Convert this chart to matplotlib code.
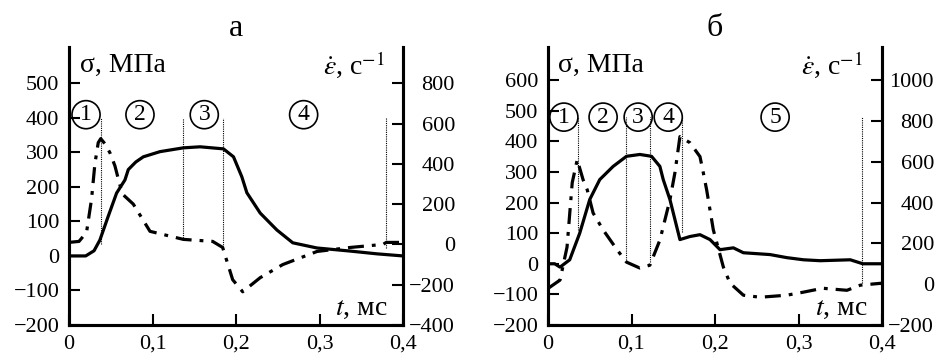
import matplotlib
matplotlib.use('Agg')
import matplotlib.pyplot as plt

plt.rcParams['font.family'] = ['Liberation Serif', 'DejaVu Serif']
plt.rcParams['mathtext.fontset'] = 'stix'

# panel a: stress (left axis) and strain rate (right axis)
t_sig_a = [0, 0.02, 0.03, 0.037, 0.047, 0.057, 0.067, 0.071, 0.08, 0.089, 0.109, 0.137, 0.157,
           0.185, 0.197, 0.207, 0.213, 0.229, 0.249, 0.268, 0.297, 0.337, 0.369, 0.4]
sig_a = [0, 0, 15, 46, 115, 182, 220, 250, 272, 287, 302, 313, 316,
         310, 287, 229, 183, 124, 75, 38, 23, 14, 6, 0]
t_eps_a = [0, 0.012, 0.021, 0.027, 0.031, 0.035, 0.038, 0.043, 0.049, 0.055, 0.06, 0.064, 0.077,
           0.097, 0.137, 0.172, 0.184, 0.196, 0.208, 0.229, 0.256, 0.297, 0.337, 0.376, 0.38, 0.4]
eps_a = [10, 15, 60, 225, 400, 505, 525, 500, 455, 390, 310, 250, 200,
         65, 25, 15, -15, -175, -235, -165, -100, -35, -15, 0, 10, 10]
lines_a = [0.0383, 0.1365, 0.184, 0.3797]
lines_a_bottom = [35, 45, 26, 23]
phase_a = ['1', '2', '3', '4']
phase_a_x = [0.0204, 0.085, 0.162, 0.281]

# panel b
t_sig_b = [0, 0.008, 0.0144, 0.026, 0.038, 0.05, 0.062, 0.078, 0.094, 0.11, 0.124, 0.134,
           0.138, 0.146, 0.158, 0.17, 0.182, 0.194, 0.206, 0.222, 0.234, 0.266, 0.286,
           0.306, 0.326, 0.362, 0.377, 0.4]
sig_b = [0, 0, -11, 13, 100, 210, 275, 318, 351, 357, 351, 318,
         275, 210, 79, 89, 95, 79, 46, 52, 36, 30, 20,
         13, 10, 13, 0, 0]
t_eps_b = [0, 0.0144, 0.0228, 0.029, 0.035, 0.042, 0.047, 0.054, 0.066, 0.083, 0.094, 0.11,
           0.122, 0.134, 0.146, 0.152, 0.158, 0.17, 0.182, 0.186, 0.19, 0.198, 0.21, 0.218,
           0.234, 0.254, 0.286, 0.306, 0.329, 0.358, 0.374, 0.4]
eps_b = [-21, 20, 182, 497, 610, 512, 462, 349, 266, 167, 108, 79,
         93, 216, 413, 546, 723, 693, 625, 546, 462, 266, 84, 5,
         -54, -64, -54, -39, -20, -30, -5, 5]
lines_b = [0.0356, 0.0934, 0.122, 0.161, 0.376]
lines_b_bottom = [111, 13, 7, 105, -62]
phase_b = ['1', '2', '3', '4', '5']
phase_b_x = [0.019, 0.066, 0.108, 0.144, 0.272]

xticks = [0, 0.1, 0.2, 0.3, 0.4]
xticklabels = ['0', '0,1', '0,2', '0,3', '0,4']

fig = plt.figure(figsize=(9.4, 3.58), dpi=100)

panels = [
    dict(left=69, t_sig=t_sig_a, sig=sig_a, t_eps=t_eps_a, eps=eps_a,
         lines=lines_a, bottoms=lines_a_bottom, top=400,
         phase=phase_a, phase_x=phase_a_x, phase_y=409,
         ylim=(-200, 605), yticks=range(-200, 501, 100),
         ylim2=(-400, 980), yticks2=range(-400, 801, 200),
         title='а', sig_x=0.033, eps_x=0.946, t_x=0.955),
    dict(left=548, t_sig=t_sig_b, sig=sig_b, t_eps=t_eps_b, eps=eps_b,
         lines=lines_b, bottoms=lines_b_bottom, top=480,
         phase=phase_b, phase_x=phase_b_x, phase_y=479,
         ylim=(-200, 708), yticks=range(-200, 601, 100),
         ylim2=(-200, 1162), yticks2=range(-200, 1001, 200),
         title='б', sig_x=0.03, eps_x=0.943, t_x=0.958),
]

for p in panels:
    ax = fig.add_axes([p['left'] / 940, 33 / 358, 334 / 940, 278 / 358])
    ax2 = ax.twinx()

    ax.plot(p['t_sig'], p['sig'], color='black', lw=2.3, solid_joinstyle='round')
    ax2.plot(p['t_eps'], p['eps'], color='black', lw=2.3, dashes=(5, 2.5, 1.2, 2.5))

    for x, yb in zip(p['lines'], p['bottoms']):
        ax.plot([x, x], [yb, p['top']], color='black', lw=0.8, ls=(0, (1, 1)))

    for s, x in zip(p['phase'], p['phase_x']):
        ax.text(x, p['phase_y'], s, ha='center', va='center', fontsize=17,
                bbox=dict(boxstyle='circle,pad=0.15', fc='none', ec='black', lw=1.2))

    ax.set_xlim(0, 0.4)
    ax.set_ylim(*p['ylim'])
    ax.set_xticks(xticks)
    ax.set_xticklabels(xticklabels)
    ax.set_yticks(list(p['yticks']))
    ax2.set_ylim(*p['ylim2'])
    ax2.set_yticks(list(p['yticks2']))

    for a in (ax, ax2):
        a.spines['top'].set_visible(False)
        for sp in ('left', 'right', 'bottom'):
            a.spines[sp].set_linewidth(2.2)
    ax.tick_params(axis='x', direction='in', length=8, width=1.5, labelsize=16, pad=7)
    ax.tick_params(axis='y', direction='in', length=8, width=1.5, labelsize=16, pad=7)
    ax2.tick_params(axis='y', direction='in', length=8, width=1.5, labelsize=16, pad=37.4)
    for lab in ax2.get_yticklabels():
        lab.set_horizontalalignment('right')

    ax.text(p['sig_x'], 0.935, 'σ, МПа', transform=ax.transAxes, fontsize=20,
            ha='left', va='center')
    ax.text(p['eps_x'], 0.935, r'$\dot{\varepsilon}$, с$^{-1}$', transform=ax.transAxes,
            fontsize=20, ha='right', va='center')
    ax.text(p['t_x'], 0.061, r'$t$, мс', transform=ax.transAxes, fontsize=20,
            ha='right', va='center')

    fig.text((p['left'] + 167) / 940, 1 - 28 / 358, p['title'], fontsize=23,
             ha='center', va='center')

fig.savefig('out.png', dpi=100)
